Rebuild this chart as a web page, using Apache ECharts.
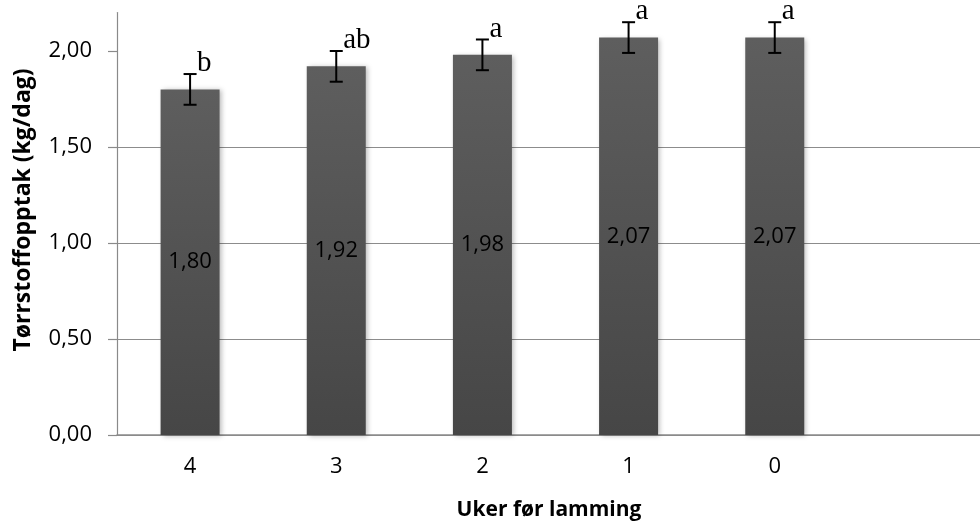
<!DOCTYPE html>
<html>
<head>
<meta charset="utf-8">
<script src="https://cdn.jsdelivr.net/npm/echarts@6/dist/echarts.min.js"></script>
<style>
  html, body { margin: 0; padding: 0; background: #fff; }
  #chart { width: 980px; height: 524px; }
</style>
</head>
<body>
<div id="chart"></div>
<script>
// Dry matter intake per week before lambing
const categories = ['4', '3', '2', '1', '0', ''];
const intake = [1.80, 1.92, 1.98, 2.07, 2.07, null];
const errors = [0.08, 0.08, 0.08, 0.08, 0.08, null];
const letters = ['b', 'ab', 'a', 'a', 'a', ''];
const yTicks = [0, 0.5, 1, 1.5, 2];

const fmt = v => v.toFixed(2).replace('.', ',');
const sansFont = '"Open Sans", "Noto Sans", sans-serif';

const chart = echarts.init(document.getElementById('chart'), null, { renderer: 'canvas' });

const errData = intake.map((v, i) => (v == null ? null : [i, v, errors[i], letters[i]]));

chart.setOption({
  animation: false,
  backgroundColor: '#ffffff',
  grid: { left: 117, top: 12.6, bottom: 89, right: -760 + 746, containLabel: false, outerBoundsMode: 'none' },
  xAxis: {
    type: 'category',
    data: categories,
    axisLine: { lineStyle: { color: '#8a8a8a', width: 1.5 } },
    axisTick: { show: false },
    axisLabel: { color: '#000', fontFamily: sansFont, fontSize: 22, margin: 21 },
    splitLine: { show: false }
  },
  yAxis: {
    type: 'value',
    min: 0,
    max: 2.2,
    interval: 0.5,
    axisLine: { show: true, lineStyle: { color: '#8a8a8a', width: 1.2 } },
    axisTick: { show: true, inside: false, length: 9, customValues: yTicks, lineStyle: { color: '#8a8a8a', width: 1.2 } },
    axisLabel: {
      color: '#000', fontFamily: sansFont, fontSize: 22, margin: 25,
      customValues: yTicks,
      formatter: v => fmt(v)
    },
    splitLine: { show: true, showMaxLine: false, lineStyle: { color: '#8c8c8c', width: 1.2 } }
  },
  series: [
    {
      type: 'bar',
      data: intake,
      barWidth: 59,
      itemStyle: {
        color: new echarts.graphic.LinearGradient(0, 0, 0, 1, [
          { offset: 0, color: '#5e5e5e' },
          { offset: 1, color: '#464646' }
        ]),
        shadowBlur: 5,
        shadowOffsetX: 2,
        shadowOffsetY: 1,
        shadowColor: 'rgba(0,0,0,0.28)'
      },
      label: {
        show: true,
        position: 'inside',
        color: '#000',
        fontFamily: sansFont,
        fontSize: 22,
        formatter: p => fmt(p.value)
      }
    },
    {
      type: 'custom',
      data: errData,
      z: 5,
      renderItem: (params, api) => {
        const i = api.value(0);
        const v = api.value(1);
        const e = api.value(2);
        const top = api.coord([i, v + e]);
        const bot = api.coord([i, v - e]);
        const x = top[0];
        const cap = 6.5;
        const style = { stroke: '#000', lineWidth: 2 };
        return {
          type: 'group',
          children: [
            { type: 'line', shape: { x1: x, y1: top[1], x2: x, y2: bot[1] }, style },
            { type: 'line', shape: { x1: x - cap, y1: top[1], x2: x + cap, y2: top[1] }, style },
            { type: 'line', shape: { x1: x - cap, y1: bot[1], x2: x + cap, y2: bot[1] }, style },
            {
              type: 'text',
              style: {
                x: x + 7,
                y: top[1] + 4,
                text: letters[i],
                fill: '#000',
                font: '29px "Liberation Serif", "DejaVu Serif", serif',
                textAlign: 'left',
                textVerticalAlign: 'bottom'
              }
            }
          ]
        };
      }
    }
  ],
  graphic: [
    {
      type: 'text',
      x: 549, y: 510,
      style: {
        text: 'Uker før lamming',
        fill: '#000',
        font: 'bold 21px "Open Sans", "Noto Sans", sans-serif',
        textAlign: 'center',
        textVerticalAlign: 'middle'
      }
    },
    {
      type: 'text',
      rotation: Math.PI / 2,
      x: 23, y: 210,
      style: {
        text: 'Tørrstoffopptak (kg/dag)',
        fill: '#000',
        font: 'bold 23px "Open Sans", "Noto Sans", sans-serif',
        textAlign: 'center',
        textVerticalAlign: 'middle'
      }
    }
  ]
});
</script>
</body>
</html>
